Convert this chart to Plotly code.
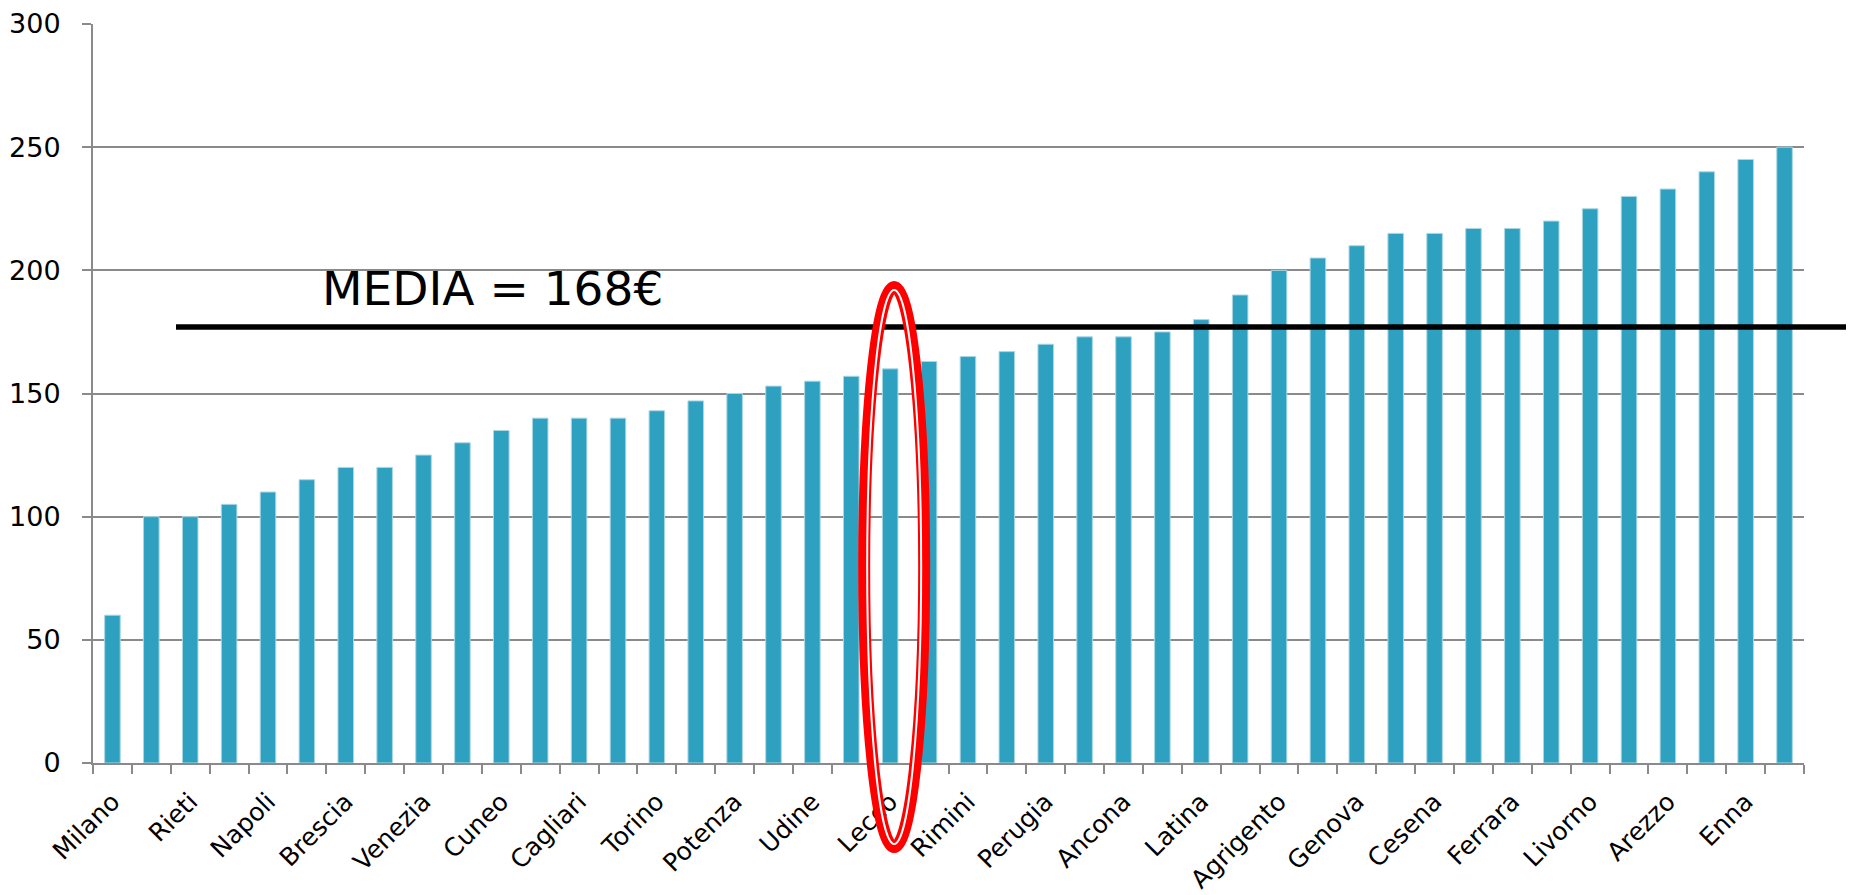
import plotly.graph_objects as go

# Category labels (shown on every other bar, as in the original)
tick_labels = ["Milano", "Rieti", "Napoli", "Brescia", "Venezia", "Cuneo", "Cagliari",
               "Torino", "Potenza", "Udine", "Lecco", "Rimini", "Perugia", "Ancona",
               "Latina", "Agrigento", "Genova", "Cesena", "Ferrara", "Livorno",
               "Arezzo", "Enna"]

# Bar values (44 bars, sorted)
values = [60, 100, 100, 105, 110, 115, 120, 120, 125, 130, 135, 140, 140, 140, 143,
          147, 150, 153, 155, 157, 160, 163, 165, 167, 170, 173, 173, 175, 180, 190,
          200, 205, 210, 215, 215, 217, 217, 220, 225, 230, 233, 240, 245, 250]

mean_line_value = 177
mean_label = "MEDIA = 168€"
highlight_label = "Lecco"

# page body adds an 8px offset; work in screen pixels and convert
OFF = 8
W, H = 1846, 887
ML, MR, MT, MB = 85, 50, 16, 132
PW, PH = W - ML - MR, H - MT - MB

def px_x(X):
    return (X - OFF - ML) / PW

def px_y(Y):
    return (H - MB - (Y - OFF)) / PH

n = len(values)
xs = list(range(n))
tickvals = xs[::2]
boundaries = [i - 0.5 for i in range(n + 1)]

GRAY = "#8a8a8a"
BAR = "rgb(46,161,192)"
FONT = "DejaVu Sans"

fig = go.Figure()
fig.add_trace(go.Bar(
    x=xs, y=values,
    marker=dict(color=BAR, line=dict(color="rgba(170,215,228,1)", width=1)),
    width=0.4,
    hoverinfo="y",
))

# mean line (extends past the plot on the right)
fig.add_shape(type="line", xref="paper", yref="y",
              x0=px_x(176), x1=px_x(1851), y0=mean_line_value, y1=mean_line_value,
              line=dict(color="black", width=5.5), layer="above")

fig.add_annotation(text=mean_label, xref="paper", yref="paper",
                   x=px_x(320), y=px_y(288), xanchor="left", yanchor="middle",
                   showarrow=False, font=dict(family=FONT, size=47, color="black"))

# red double ellipse around Lecco
hi = tick_labels.index(highlight_label) * 2
cx = OFF + ML + (hi + 0.5) * PW / n + 4
cy = 567
for rx, ry, col, w in [(30, 280, "red", 12), (27, 277, "white", 2)]:
    fig.add_shape(type="circle", xref="paper", yref="paper",
                  x0=px_x(cx - rx), x1=px_x(cx + rx),
                  y0=px_y(cy + ry), y1=px_y(cy - ry),
                  line=dict(color=col, width=w), layer="above")

fig.update_layout(
    width=W, height=H,
    margin=dict(l=ML, r=MR, t=MT, b=MB, autoexpand=False),
    plot_bgcolor="white", paper_bgcolor="white",
    showlegend=False,
    font=dict(family=FONT, size=26, color="black"),
    bargap=0.6,
)
fig.update_xaxes(
    range=[-0.5, n - 0.5], automargin=False,
    tickmode="array", tickvals=tickvals, ticktext=tick_labels,
    tickangle=-45, ticks="", showgrid=False, ticklabelstandoff=12,
    showline=True, linecolor=GRAY, linewidth=2,
    tickfont=dict(family=FONT, size=25, color="black"),
    minor=dict(tickmode="array", tickvals=boundaries, ticks="outside",
               ticklen=9, tickcolor=GRAY, tickwidth=2, showgrid=False),
)
fig.update_yaxes(
    range=[0, 300], tickmode="linear", tick0=0, dtick=50, automargin=False,
    showgrid=True, gridcolor=GRAY, gridwidth=2,
    ticks="outside", ticklen=9, tickcolor=GRAY, tickwidth=2, ticklabelstandoff=16,
    showline=True, linecolor=GRAY, linewidth=2, zeroline=False,
    tickfont=dict(family=FONT, size=27, color="black"),
)

fig.write_html("out.html")
